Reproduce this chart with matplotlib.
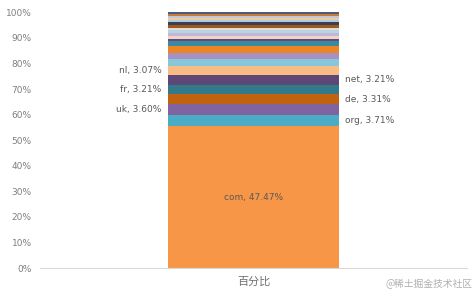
import matplotlib.pyplot as plt
import numpy as np

plt.rcParams['font.family'] = ['DejaVu Sans', 'Noto Sans CJK SC']

# 各域名占比 (自下而上)
names = ['com', 'org', 'uk', 'de', 'fr', 'net', 'nl',
         'ru', 'br', 'jp', 'it', 'info', 'pl', 'au', 'es',
         'ca', 'eu', 'in', 'ch', 'se', 'cz', 'io', 'us']
values = [47.47, 3.71, 3.60, 3.31, 3.21, 3.21, 3.07,
          2.20, 2.00, 2.35, 1.70, 0.85, 0.85, 1.00, 1.10,
          0.70, 0.85, 0.90, 0.70, 0.70, 0.70, 0.65, 0.60]
colors = ['#F79646', '#4BACC6', '#8064A2', '#C0620E', '#33798C', '#5C4776', '#F9BC84',
          '#86C8DA', '#A591C4', '#EC8623', '#3A8AA2', '#5E4C7E', '#F4D3C7', '#C3B7D8', '#B5D6E8',
          '#E7DCCB', '#9C5A22', '#3D3F50', '#A9CFE0', '#F4C9A2', '#BFC8D8', '#C67A3C', '#4E5B7C']
category = '百分比'
# 标签位置: 'c' 居中, 'l' 左侧, 'r' 右侧, None 不显示
label_side = ['c', 'r', 'l', 'r', 'l', 'r', 'l'] + [None] * 16

vals = np.array(values)
heights = vals / vals.sum()

fig = plt.figure(figsize=(4.77, 2.94), dpi=100)
ax = fig.add_axes([0.084, 0.088, 0.895, 0.870])

bottom = 0
for i in range(len(names)):
    ax.bar(0, heights[i], width=0.4, bottom=bottom, color=colors[i], linewidth=0)
    mid = bottom + heights[i] / 2
    side = label_side[i]
    txt = f'{names[i]}, {values[i]:.2f}%'
    if side == 'c':
        ax.text(0, mid, txt, ha='center', va='center', fontsize=6.5, color='#595959')
    elif side == 'l':
        ax.text(-0.215, mid, txt, ha='right', va='center', fontsize=6.5, color='#595959')
    elif side == 'r':
        ax.text(0.215, mid, txt, ha='left', va='center', fontsize=6.5, color='#595959')
    bottom += heights[i]

ax.set_xlim(-0.5, 0.5)
ax.set_ylim(0, 1)
ax.set_yticks(np.arange(0, 1.01, 0.1))
ax.set_yticklabels([f'{int(round(t * 100))}%' for t in np.arange(0, 1.01, 0.1)],
                   fontsize=6.5, color='#7F7F7F')
ax.set_xticks([0])
ax.set_xticklabels([category], fontsize=8, color='#6F6F6F', family=['Noto Sans CJK SC'])
ax.tick_params(length=0, pad=6)
for s in ['top', 'right', 'left']:
    ax.spines[s].set_visible(False)
ax.spines['bottom'].set_color('#D9D9D9')

fig.text(0.99, 0.035, '@稀土掘金技术社区', ha='right', va='center', fontsize=7,
         color='#B0B0B0', family=['Noto Sans CJK SC'])

fig.savefig('out.png', dpi=100)
